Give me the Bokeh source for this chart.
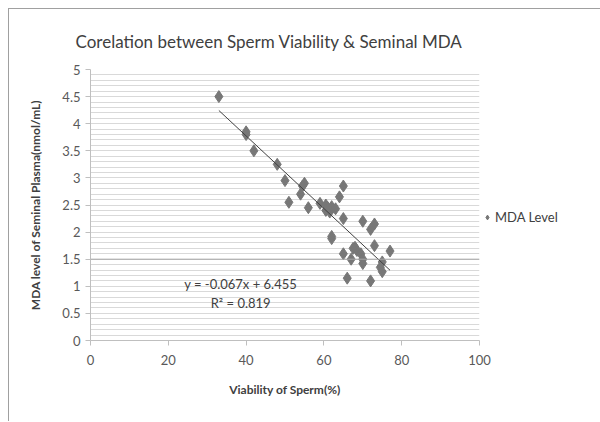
from bokeh.plotting import figure
from bokeh.models import (ColumnDataSource, Legend, LegendItem, Span, Label,
                          FixedTicker, Range1d, Title)
from bokeh.embed import file_html
from bokeh.resources import INLINE

# Data
viability = [33, 40, 40, 42, 48, 50, 55, 54.5, 54, 51, 56, 59, 60.5, 62, 63,
             60.5, 61.5, 61, 65, 64, 65, 70, 73, 72, 62, 62, 68, 68.5, 69.5,
             70, 70, 73, 77, 65, 67, 75, 74.5, 75, 66, 72, 67.5]
mda = [4.5, 3.85, 3.8, 3.5, 3.25, 2.95, 2.9, 2.85, 2.7, 2.55, 2.45, 2.53, 2.5,
       2.47, 2.43, 2.4, 2.37, 2.45, 2.85, 2.65, 2.25, 2.2, 2.15, 2.05, 1.92,
       1.88, 1.72, 1.66, 1.6, 1.5, 1.42, 1.75, 1.65, 1.6, 1.5, 1.45, 1.35,
       1.27, 1.15, 1.1, 1.7]
slope = -0.067
intercept = 6.455
eq_text = "y = -0.067x + 6.455"
r2_text = "R\u00b2 = 0.819"
x_ticks = [0, 20, 40, 60, 80, 100]
y_ticks = [0, 0.5, 1, 1.5, 2, 2.5, 3, 3.5, 4, 4.5, 5]
y_minor = [i / 10 for i in range(0, 51)]

FONT = "Lato"
GRAY = "#595959"

p = figure(frame_width=389, frame_height=271, output_backend="svg",
           toolbar_location=None, x_range=Range1d(0, 100), y_range=Range1d(0, 5))
p.min_border_left = 81
p.min_border_right = 120
p.min_border_top = 60
p.min_border_bottom = 81
p.outline_line_color = None
p.styles = {"margin-left": "8px", "margin-top": "8px",
            "border-left": "1px solid #a0a0a0", "border-top": "1px solid #a0a0a0"}

p.title = Title(text="Corelation between Sperm Viability & Seminal MDA",
                text_font=FONT, text_font_size="17px", text_font_style="normal",
                text_color="#404040", align="left", offset=-15, standoff=36)

# grid
p.xgrid.grid_line_color = None
p.ygrid.ticker = FixedTicker(ticks=y_minor)
p.ygrid.grid_line_color = "#d9d9d9"
p.ygrid.grid_line_width = 1
p.add_layout(Span(location=1.5, dimension="width", line_color="#a6a6a6", line_width=1))

# axes
for ax in (p.xaxis[0], p.yaxis[0]):
    ax.axis_line_color = "#bfbfbf"
    ax.major_tick_line_color = "#bfbfbf"
    ax.minor_tick_line_color = None
    ax.major_tick_out = 5
    ax.major_tick_in = 0
    ax.major_label_text_font = FONT
    ax.major_label_text_font_size = "13px"
    ax.major_label_text_color = GRAY
    ax.axis_label_text_font = FONT
    ax.axis_label_text_font_size = "12px"
    ax.axis_label_text_font_style = "bold"
    ax.axis_label_text_color = "#404040"

p.xaxis.ticker = FixedTicker(ticks=x_ticks)
p.yaxis.ticker = FixedTicker(ticks=y_ticks)
p.xaxis.major_label_standoff = 9
p.yaxis.major_label_standoff = 5
p.xaxis.axis_label = "Viability of Sperm(%)"
p.yaxis.axis_label = "MDA level of Seminal Plasma(nmol/mL)"
p.xaxis.axis_label_standoff = 14
p.yaxis.axis_label_standoff = 16

src = ColumnDataSource(dict(x=viability, y=mda))
pts = p.scatter("x", "y", source=src, marker="diamond", size=12,
                fill_color="#777777", line_color="#777777")

xmin, xmax = min(viability), max(viability)
p.line([xmin, xmax], [slope * xmin + intercept, slope * xmax + intercept],
       line_color="#404040", line_width=1)

p.add_layout(Label(x=38.6, y=1.05, text=eq_text, text_align="center",
                   text_baseline="middle", text_font=FONT, text_font_size="13px",
                   text_color="#404040"))
p.add_layout(Label(x=38.6, y=0.69, text=r2_text, text_align="center",
                   text_baseline="middle", text_font=FONT, text_font_size="13px",
                   text_color="#404040"))

legend = Legend(items=[LegendItem(label="MDA Level", renderers=[pts])],
                location=(2, 113), border_line_color=None,
                background_fill_alpha=0, label_text_font=FONT,
                label_text_font_size="13px", label_text_color="#404040",
                glyph_width=12, label_standoff=2, padding=0, margin=0)
p.add_layout(legend, "right")

open("out.html", "w").write(file_html(p, INLINE))
